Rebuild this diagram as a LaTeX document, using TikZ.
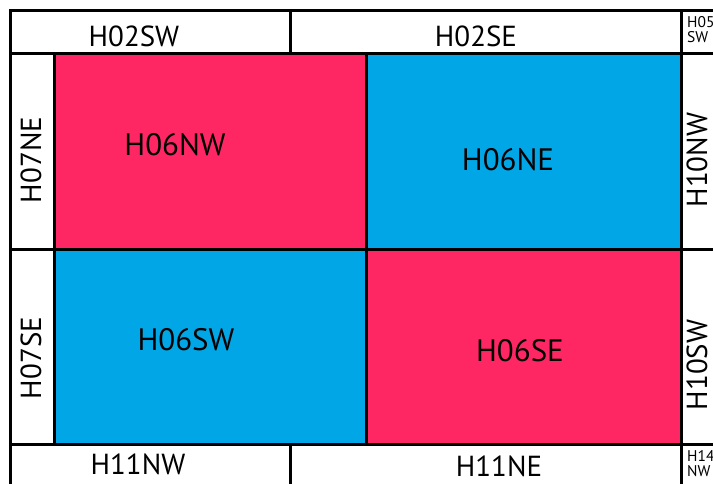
\documentclass[tikz,border=0pt]{standalone}
\usepackage{fontspec}
\setmainfont{PT Sans}
\definecolor{pinkc}{RGB}{255,38,100}
\definecolor{bluec}{RGB}{0,166,230}
\begin{document}
\begin{tikzpicture}[x=1bp,y=-1bp,
  cellline/.style={draw=black,line width=3bp},
  biglab/.style={font=\fontsize{31bp}{34bp}\selectfont,inner sep=0pt},
  edgelab/.style={font=\fontsize{29bp}{32bp}\selectfont,inner sep=0pt},
  smalllab/.style={font=\fontsize{15.5bp}{15bp}\selectfont,inner sep=0pt,align=left,anchor=north west}]
\useasboundingbox (0,0) rectangle (713,484);
\clip (0,0) rectangle (713,484);
\fill[white] (0,0) rectangle (713,484);
% coloured cells
\path[cellline,fill=pinkc] (54,54) rectangle (366,250);
\path[cellline,fill=bluec] (366,54) rectangle (681,250);
\path[cellline,fill=bluec] (54,250) rectangle (366,444);
\path[cellline,fill=pinkc] (366,250) rectangle (681,444);
% border strips
\path[cellline] (10,11) rectangle (290,54);
\path[cellline] (290,11) rectangle (681,54);
\path[cellline] (681,11) rectangle (760,54);
\path[cellline] (10,54) rectangle (54,250);
\path[cellline] (10,250) rectangle (54,444);
\path[cellline] (681,54) rectangle (760,250);
\path[cellline] (681,250) rectangle (760,444);
\path[cellline] (10,444) rectangle (290,520);
\path[cellline] (290,444) rectangle (681,520);
\path[cellline] (681,444) rectangle (760,520);
% labels
\node[edgelab] (h02sw) at (134,36) {H02SW};
\node[edgelab] (h02se) at (476,36) {H02SE};
\node[smalllab] (h05sw) at (687,16) {H05\\SW};
\node[edgelab,rotate=90] (h07ne) at (31,160) {H07NE};
\node[edgelab,rotate=90] (h07se) at (31,358) {H07SE};
\node[edgelab,rotate=90] (h10nw) at (697,160) {H10NW};
\node[edgelab,rotate=90] (h10sw) at (697,365) {H10SW};
\node[biglab] (h06nw) at (175,145) {H06NW};
\node[biglab] (h06ne) at (508,160) {H06NE};
\node[biglab] (h06sw) at (186,340) {H06SW};
\node[biglab] (h06se) at (520,351) {H06SE};
\node[edgelab] (h11nw) at (138,464) {H11NW};
\node[edgelab] (h11ne) at (499,466) {H11NE};
\node[smalllab] (h14nw) at (687,450) {H14\\NW};
\end{tikzpicture}
\end{document}
